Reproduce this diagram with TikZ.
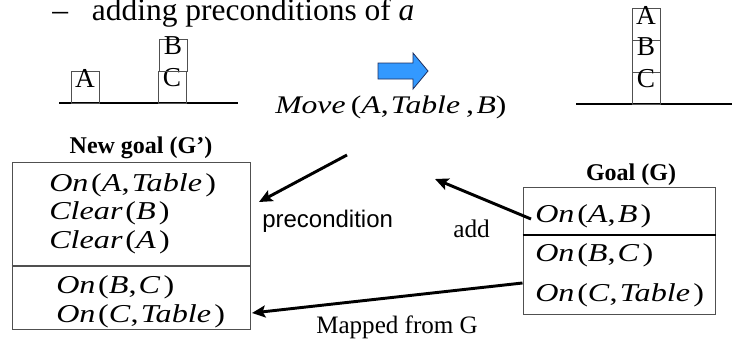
\documentclass[tikz,border=0pt]{standalone}
\usepackage{fontspec}
\setmainfont{Liberation Serif}
\newfontfamily\labelsans{Liberation Sans}
\newfontfamily\eqfont[FakeStretch=1.25]{Liberation Serif}
\usetikzlibrary{arrows.meta, calc, positioning, fit}
\definecolor{ink}{HTML}{000000}
\definecolor{frame}{HTML}{505050}
\definecolor{cue}{HTML}{3399FF}
\definecolor{cueline}{HTML}{1F2F5F}

\newcommand{\fn}[2]{\textit{#1}\kern2pt(#2\kern2.5pt)}
\newcommand{\ar}[1]{\textit{#1}}
\newcommand{\sep}{,\kern1.5pt}

\begin{document}
\begin{tikzpicture}[
    x=0.75pt, y=-0.75pt,
    pred/.style={
      anchor=base west,
      inner sep=0pt,
      font=\eqfont\fontsize{19.3}{24}\selectfont,
    },
    blk/.style={
      draw=frame,
      line width=0.75pt,
      inner sep=0pt,
      font=\fontsize{20.5}{22}\selectfont,
    },
    goalbox/.style={
      draw=frame,
      line width=0.75pt,
      inner sep=0pt,
    },
    caption/.style={
      anchor=base,
      inner sep=0pt,
      font=\bfseries\fontsize{18}{20}\selectfont,
    },
    note/.style={
      anchor=base west,
      inner sep=0pt,
      font=\fontsize{19}{22}\selectfont,
    },
    conn/.style={
      draw=ink,
      line width=2.2pt,
      -{Stealth[length=10pt,width=9pt,inset=2pt]},
    },
    ground/.style={
      draw=ink,
      line width=1.1pt,
    },
  ]

  \useasboundingbox (0,0) rectangle (732,339);

  % Heading line
  \node[anchor=base west, inner sep=0pt, font=\fontsize{23.6}{28}\selectfont] (head) at (52,20)
    {--\hspace{18pt}adding preconditions of \textit{a}};

  % Start state
  \draw[ground] (59,103) coordinate (gl1) -- (238,103) coordinate (gl2);
  \node[blk, fit={(71,71) (99,103)}] (sA) {A};
  \node[blk, fit={(158,71) (186,103)}] (sC) {C};
  \node[blk, fit={(159,39) (187,71)}] (sB) {B};

  % Action
  \draw[fill=cue, draw=cueline, line width=0.6pt]
    (378,63) -- (413,63) -- (413,53) -- (428,71) -- (413,89) -- (413,79) -- (378,79) -- cycle;
  \node[pred, font=\eqfont\fontsize{19}{22}\selectfont] (move) at (275,113)
    {\textit{Move}\kern4pt(\ar{A}\sep\ar{Table}\kern4.5pt,\kern2pt\ar{B})};

  % End state
  \draw[ground] (576,104) coordinate (gr1) -- (732,104) coordinate (gr2);
  \node[blk, fit={(632,8) (660,40)}] (eA) {A};
  \node[blk, fit={(632,40) (660,72)}] (eB) {B};
  \node[blk, fit={(632,72) (660,104)}] (eC) {C};

  % New goal G'
  \node[caption] (newcap) at (141,153) {New goal (G’)};
  \node[goalbox, fit={(12,162) (250,329)}] (Gp) {};
  \draw[draw=frame, line width=0.9pt] (Gp.west |- 0,266) -- (Gp.east |- 0,266);
  \node[pred] (p1) at (49,191) {\fn{On}{\ar{A}\sep\ar{Table}}};
  \node[pred] (p2) at (49,219) {\fn{Clear}{\ar{B}}};
  \node[pred] (p3) at (49,248) {\fn{Clear}{\ar{A}}};
  \node[pred] (p4) at (56,293) {\fn{On}{\ar{B}\sep\ar{C}}};
  \node[pred] (p5) at (56,322) {\fn{On}{\ar{C}\sep\ar{Table}}};

  % Goal G
  \node[caption] (goalcap) at (631,180) {Goal (G)};
  \node[goalbox, fit={(523,187) (715,314)}] (G) {};
  \draw[draw=ink, line width=1.6pt] (G.west |- 0,235) -- (G.east |- 0,235);
  \node[pred] (g1) at (535,222) {\fn{On}{\ar{A}\sep\ar{B}}};
  \node[pred] (g2) at (535,261) {\fn{On}{\ar{B}\sep\ar{C}}};
  \node[pred] (g3) at (535,301) {\fn{On}{\ar{C}\sep\ar{Table}}};

  % Connectors
  \coordinate (preS) at (347,155);
  \coordinate (preE) at (259,202);
  \coordinate (addS) at (531,219);
  \coordinate (addE) at (435,179);
  \coordinate (mapS) at (G.west |- 0,283);
  \coordinate (mapE) at (252,313);
  \draw[conn] (preS) -- (preE);
  \draw[conn] (addS) -- (addE);
  \draw[conn] (mapS) -- (mapE);

  % Connector labels
  \node[note, font=\labelsans\fontsize{18}{22}\selectfont] (prelbl) at (262,227) {precondition};
  \node[note] (addlbl) at (453,237) {add};
  \node[note, font=\fontsize{18.8}{22}\selectfont] (maplbl) at (316,333) {Mapped from G};

\end{tikzpicture}
\end{document}
